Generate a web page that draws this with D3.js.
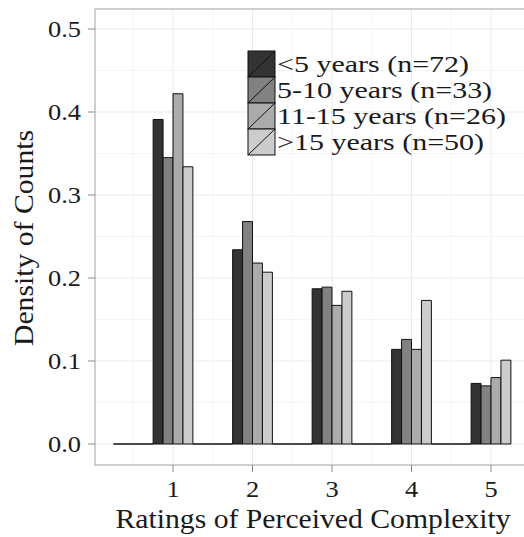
<!DOCTYPE html>
<html>
<head>
<meta charset="utf-8">
<script src="https://cdn.jsdelivr.net/npm/d3@7"></script>
<style>
  body { margin: 0; background: #fff; }
  text { font-family: "Liberation Serif", "Times New Roman", serif; fill: #1a1a1a; }
</style>
</head>
<body>
<script>
// histogram bins (binwidth 0.5), empty half bins included
let bins = [0.5, 1, 1.5, 2, 2.5, 3, 3.5, 4, 4.5, 5];
let groups = ["<5 years (n=72)", "5-10 years (n=33)", "11-15 years (n=26)", ">15 years (n=50)"];
let under5   = [0, 0.391, 0, 0.234, 0, 0.187, 0, 0.114, 0, 0.073];
let five10   = [0, 0.345, 0, 0.268, 0, 0.189, 0, 0.126, 0, 0.070];
let eleven15 = [0, 0.422, 0, 0.218, 0, 0.167, 0, 0.114, 0, 0.080];
let over15   = [0, 0.334, 0, 0.207, 0, 0.184, 0, 0.173, 0, 0.101];
let series = [under5, five10, eleven15, over15];
let fills = ["#333333", "#818181", "#ababab", "#cccccc"];
let yTicks = [0, 0.1, 0.2, 0.3, 0.4, 0.5];
let xTicks = [1, 2, 3, 4, 5];

let W = 524, H = 537;
let svg = d3.select("body").append("svg")
            .attr("width", W)
            .attr("height", H);

let x = d3.scaleLinear().domain([1, 5]).range([173, 491]);
let y = d3.scaleLinear().domain([0, 0.5]).range([444, 29]);
let panel = {left: 95, top: 9, right: 540, bottom: 465};

// panel background + grid
svg.append("rect")
   .attr("x", panel.left).attr("y", panel.top)
   .attr("width", panel.right - panel.left).attr("height", panel.bottom - panel.top)
   .attr("fill", "#fff");

let minorY = d3.range(0.05, 0.55, 0.1);
let minorX = d3.range(0.5, 6, 1);
let grid = svg.append("g");
grid.selectAll(".my").data(minorY).enter().append("line")
    .attr("x1", panel.left).attr("x2", panel.right)
    .attr("y1", d => y(d)).attr("y2", d => y(d))
    .attr("stroke", "#f5f5f5").attr("stroke-width", 1);
grid.selectAll(".mx").data(minorX).enter().append("line")
    .attr("y1", panel.top).attr("y2", panel.bottom)
    .attr("x1", d => x(d)).attr("x2", d => x(d))
    .attr("stroke", "#f5f5f5").attr("stroke-width", 1);
grid.selectAll(".gy").data(yTicks).enter().append("line")
    .attr("x1", panel.left).attr("x2", panel.right)
    .attr("y1", d => y(d)).attr("y2", d => y(d))
    .attr("stroke", "#ebebeb").attr("stroke-width", 1);
grid.selectAll(".gx").data(xTicks).enter().append("line")
    .attr("y1", panel.top).attr("y2", panel.bottom)
    .attr("x1", d => x(d)).attr("x2", d => x(d))
    .attr("stroke", "#ebebeb").attr("stroke-width", 1);

// bars, drawn as paths so empty bins still show as a line
let binW = 0.5, barW = binW / series.length;
series.forEach((vals, s) => {
    svg.append("g").selectAll("path").data(bins).enter().append("path")
       .attr("d", (b, i) => {
           let x0 = x(b - binW / 2 + s * barW), x1 = x(b - binW / 2 + (s + 1) * barW);
           let y0 = y(0), y1 = y(vals[i]);
           return "M" + x0 + "," + y0 + "V" + y1 + "H" + x1 + "V" + y0 + "Z";
       })
       .attr("fill", fills[s])
       .attr("stroke", "#111")
       .attr("stroke-width", 1);
});

// panel border
svg.append("rect")
   .attr("x", panel.left).attr("y", panel.top)
   .attr("width", panel.right - panel.left).attr("height", panel.bottom - panel.top)
   .attr("fill", "none").attr("stroke", "#b5b5b5").attr("stroke-width", 1.3);

// stretched text helper
stext = (px, py, str, size, anchor, rot, sx) => {
    let t = svg.append("text")
       .attr("transform", "translate(" + px + "," + py + ")" + (rot ? " rotate(-90)" : "") + " scale(" + (sx || 1.1) + ",1)")
       .attr("font-size", size)
       .attr("text-anchor", anchor)
       .text(str);
    return t;
};

// y axis
svg.selectAll(".yt").data(yTicks).enter().append("line")
   .attr("x1", 88).attr("x2", panel.left)
   .attr("y1", d => y(d)).attr("y2", d => y(d))
   .attr("stroke", "#888").attr("stroke-width", 1);
yTicks.forEach(d => stext(81, y(d) + 8, d.toFixed(1), 24, "end"));

// x axis
svg.selectAll(".xt").data(xTicks).enter().append("line")
   .attr("y1", panel.bottom).attr("y2", panel.bottom + 7)
   .attr("x1", d => x(d)).attr("x2", d => x(d))
   .attr("stroke", "#888").attr("stroke-width", 1);
xTicks.forEach(d => stext(x(d), 497, String(d), 24, "middle"));

stext(313, 528, "Ratings of Perceived Complexity", 27, "middle");
stext(33, 238, "Density of Counts", 27, "middle", true);

// legend
let key = {x: 248, y: 51, w: 27, h: 26};
groups.forEach((g, i) => {
    let ky = key.y + i * key.h;
    svg.append("rect")
       .attr("x", key.x).attr("y", ky).attr("width", key.w).attr("height", key.h)
       .attr("fill", fills[i]).attr("stroke", "#111").attr("stroke-width", 1);
    svg.append("line")
       .attr("x1", key.x).attr("y1", ky + key.h)
       .attr("x2", key.x + key.w).attr("y2", ky)
       .attr("stroke", "#111").attr("stroke-width", 1);
    stext(key.x + key.w + 2, ky + key.h / 2 + 8, g, 24, "start", false, 1.25);
});
</script>
</body>
</html>
